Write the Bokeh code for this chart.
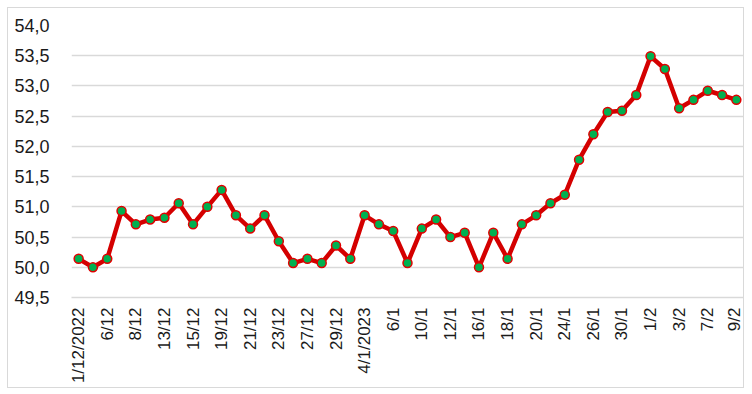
from bokeh.plotting import figure
from bokeh.models import Range1d, FixedTicker, CustomJSTickFormatter, ColumnDataSource
from bokeh.embed import file_html
from bokeh.resources import INLINE

dates = ["1/12/2022", "2/12", "6/12", "7/12", "8/12", "9/12", "13/12", "14/12", "15/12", "16/12",
         "19/12", "20/12", "21/12", "22/12", "23/12", "26/12", "27/12", "28/12", "29/12", "30/12",
         "4/1/2023", "5/1", "6/1", "9/1", "10/1", "11/1", "12/1", "13/1", "16/1", "17/1",
         "18/1", "19/1", "20/1", "23/1", "24/1", "25/1", "26/1", "27/1", "30/1", "31/1",
         "1/2", "2/2", "3/2", "6/2", "7/2", "8/2", "9/2"]
values = [50.14, 50.00, 50.14, 50.93, 50.71, 50.79, 50.82, 51.06, 50.71, 51.00,
          51.28, 50.86, 50.64, 50.86, 50.43, 50.07, 50.14, 50.07, 50.36, 50.14,
          50.86, 50.71, 50.60, 50.07, 50.64, 50.79, 50.50, 50.57, 50.00, 50.57,
          50.14, 50.71, 50.86, 51.06, 51.20, 51.78, 52.20, 52.57, 52.59, 52.85,
          53.49, 53.28, 52.63, 52.77, 52.92, 52.85, 52.77]
y_ticks = [49.5, 50.0, 50.5, 51.0, 51.5, 52.0, 52.5, 53.0, 53.5, 54.0]

idx = list(range(len(dates)))
src = ColumnDataSource(dict(x=idx, y=values, d=dates))

p = figure(width=735, height=379, output_backend="svg", toolbar_location=None,
           x_range=Range1d(-0.5, len(dates) - 0.5), y_range=Range1d(49.5, 54.0),
           min_border_left=63, min_border_right=2, min_border_top=17, min_border_bottom=92,
           margin=(7, 0, 0, 7))
p.outline_line_color = None
p.background_fill_color = "white"
p.border_fill_color = "white"
# outer chart border
p.styles = {"border": "1px solid #d9d9d9", "box-sizing": "content-box"}

p.line("x", "y", source=src, line_color="#d40000", line_width=4.5, line_join="round")
p.scatter("x", "y", source=src, size=9, fill_color="#00b050", line_color="#e00000", line_width=1.5)

p.xgrid.grid_line_color = None
p.ygrid.grid_line_color = "#d9d9d9"
p.ygrid.grid_line_width = 1.3
p.ygrid.ticker = FixedTicker(ticks=y_ticks)

p.yaxis.ticker = FixedTicker(ticks=y_ticks)
p.yaxis.formatter = CustomJSTickFormatter(code="return tick.toFixed(1).replace('.', ',');")
p.yaxis.axis_line_color = None
p.yaxis.major_tick_line_color = None
p.yaxis.minor_tick_line_color = None
p.yaxis.major_tick_out = 0
p.yaxis.major_label_standoff = 22
p.yaxis.major_label_text_font = "Liberation Sans"
p.yaxis.major_label_text_font_size = "18px"
p.yaxis.major_label_text_color = "#1a1a1a"

p.xaxis.ticker = FixedTicker(ticks=idx[::2])
p.xaxis.major_label_overrides = {i: dates[i] for i in idx[::2]}
p.xaxis.axis_line_color = "#d9d9d9"
p.xaxis.axis_line_width = 1.3
p.xaxis.major_tick_line_color = None
p.xaxis.minor_tick_line_color = None
p.xaxis.major_tick_out = 0
p.xaxis.major_label_standoff = 10
p.xaxis.major_label_orientation = 3.14159265 / 2
p.xaxis.major_label_text_font = "Liberation Sans"
p.xaxis.major_label_text_font_size = "17px"
p.xaxis.major_label_text_color = "#1a1a1a"

open("out.html", "w").write(file_html(p, INLINE))
